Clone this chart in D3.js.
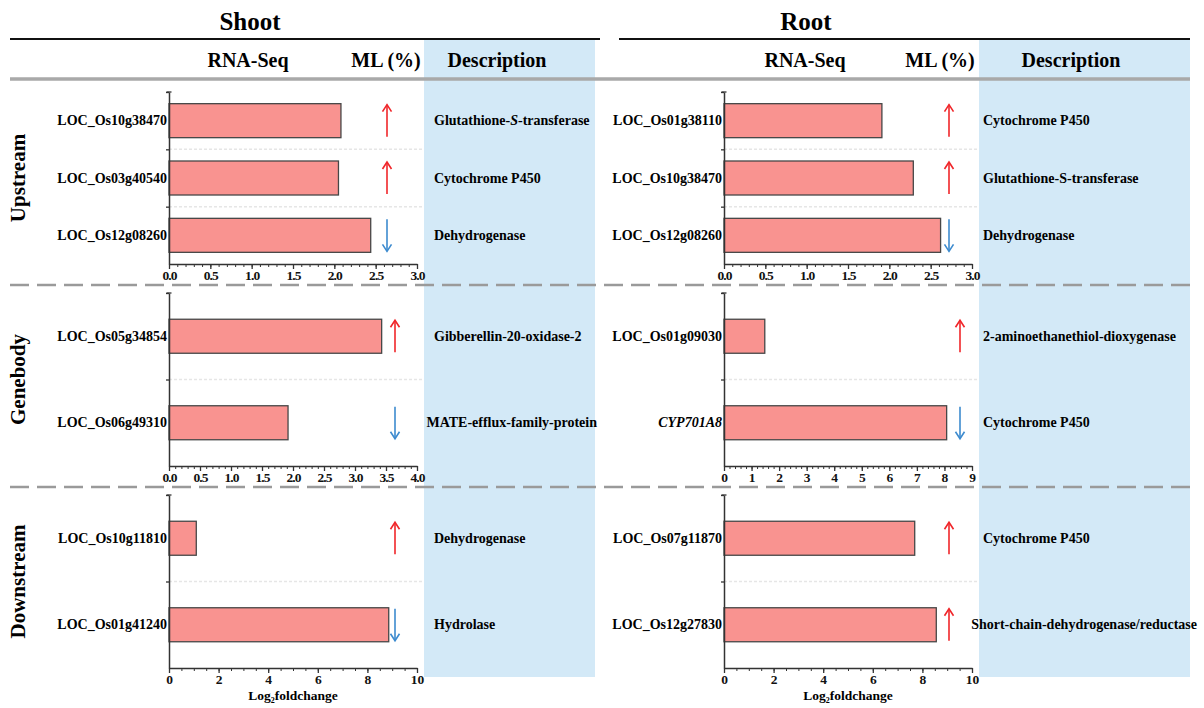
<!DOCTYPE html>
<html>
<head>
<meta charset="utf-8">
<script src="https://cdn.jsdelivr.net/npm/d3@7"></script>
<style>
  html, body { margin: 0; padding: 0; background: #fff; }
  svg { display: block; }
  svg text { font-family: "Liberation Serif", "Times New Roman", serif; }
</style>
</head>
<body>
<svg id="chart" width="1204" height="708"></svg>
<script>
// ---- data ----
const sections = ["Upstream", "Genebody", "Downstream"];

const shootGenes = [
  ["LOC_Os10g38470", "LOC_Os03g40540", "LOC_Os12g08260"],
  ["LOC_Os05g34854", "LOC_Os06g49310"],
  ["LOC_Os10g11810", "LOC_Os01g41240"]
];
const shootValues = [[2.08, 2.05, 2.44], [3.43, 1.92], [1.10, 8.86]];
const shootML = [["up", "up", "down"], ["up", "down"], ["up", "down"]];
const shootDesc = [
  ["Glutathione-*S*-transferase", "Cytochrome P450", "Dehydrogenase"],
  ["Gibberellin-20-oxidase-2", "MATE-efflux-family-protein"],
  ["Dehydrogenase", "Hydrolase"]
];
const shootMax = [3, 4, 10];
const shootMajor = [0.5, 0.5, 2];
const shootMinor = [0.1, 0.1, 0.5];

const rootGenes = [
  ["LOC_Os01g38110", "LOC_Os10g38470", "LOC_Os12g08260"],
  ["LOC_Os01g09030", "CYP701A8"],
  ["LOC_Os07g11870", "LOC_Os12g27830"]
];
const rootValues = [[1.91, 2.29, 2.62], [1.48, 8.08], [7.69, 8.56]];
const rootML = [["up", "up", "down"], ["up", "down"], ["up", "up"]];
const rootDesc = [
  ["Cytochrome P450", "Glutathione-S-transferase", "Dehydrogenase"],
  ["2-aminoethanethiol-dioxygenase", "Cytochrome P450"],
  ["Cytochrome P450", "Short-chain-dehydrogenase/reductase"]
];
const rootMax = [3, 9, 10];
const rootMajor = [0.5, 1, 2];
const rootMinor = [0.1, 0.2, 0.5];

const italicGenes = ["CYP701A8"];

// ---- layout ----
const FONT = "'Liberation Serif', 'Times New Roman', serif";
const svg = d3.select("#chart");
const sectionTop = [92, 293, 495];
const sectionBottom = [264, 466, 668];
const barH = 34;
const colors = { bar: "#f99390", barStroke: "#474747", up: "#f0262a", down: "#3d8bcf",
                 desc: "#d3e9f7", gray: "#a9a9a9" };

const panels = [
  { title: "Shoot", genes: shootGenes, values: shootValues, ml: shootML, desc: shootDesc,
    max: shootMax, major: shootMajor, minor: shootMinor,
    x0: 169, x1: 417, mlX: [387, 395, 395], descX0: 424, descX1: 595, descPad: 10, descOver: 2,
    lineX0: 10, lineX1: 600, titleX: 250, seqX: 248, mlHeadX: 386, descHeadX: 497 },
  { title: "Root", genes: rootGenes, values: rootValues, ml: rootML, desc: rootDesc,
    max: rootMax, major: rootMajor, minor: rootMinor,
    x0: 724, x1: 972, mlX: [949, 960, 949], descX0: 979, descX1: 1190, descPad: 4, descOver: 7,
    lineX0: 619, lineX1: 1190, titleX: 806, seqX: 805, mlHeadX: 940, descHeadX: 1071 }
];

// description backgrounds
panels.forEach(p => {
  svg.append("rect").attr("x", p.descX0).attr("y", 39)
    .attr("width", p.descX1 - p.descX0).attr("height", 677 - 39)
    .attr("fill", colors.desc);
});

// header
panels.forEach(p => {
  svg.append("text").attr("x", p.titleX).attr("y", 30).attr("text-anchor", "middle")
    .attr("font-size", 25).attr("font-weight", "bold").text(p.title);
  svg.append("line").attr("x1", p.lineX0).attr("x2", p.lineX1).attr("y1", 39).attr("y2", 39)
    .attr("stroke", "#111").attr("stroke-width", 2);
  svg.append("text").attr("x", p.seqX).attr("y", 67).attr("text-anchor", "middle")
    .attr("font-size", 20).attr("font-weight", "bold").text("RNA-Seq");
  svg.append("text").attr("x", p.mlHeadX).attr("y", 67).attr("text-anchor", "middle")
    .attr("font-size", 20).attr("font-weight", "bold").text("ML (%)");
  svg.append("text").attr("x", p.descHeadX).attr("y", 67).attr("text-anchor", "middle")
    .attr("font-size", 20).attr("font-weight", "bold").text("Description");
});

svg.append("line").attr("x1", 10).attr("x2", 1190).attr("y1", 79).attr("y2", 79)
  .attr("stroke", colors.gray).attr("stroke-width", 3.5);

// dashed section dividers
[285, 487].forEach(yy => {
  svg.append("line").attr("x1", 10).attr("x2", 1190).attr("y1", yy).attr("y2", yy)
    .attr("stroke", "#9a9a9a").attr("stroke-width", 2.5).attr("stroke-dasharray", "19,8");
});

// section labels
sections.forEach((s, i) => {
  const cy = (sectionTop[i] + sectionBottom[i]) / 2;
  svg.append("text").attr("transform", `translate(25,${cy}) rotate(-90)`)
    .attr("text-anchor", "middle").attr("font-size", 21).attr("font-weight", "bold").text(s);
});

function arrow(g, x, cy, dir, color) {
  const half = 16;
  const tip = dir === "up" ? cy - half : cy + half;
  const tail = dir === "up" ? cy + half : cy - half;
  const hs = dir === "up" ? 7 : -7;
  g.append("line").attr("x1", x).attr("x2", x).attr("y1", tail).attr("y2", tip)
    .attr("stroke", color).attr("stroke-width", 1.6);
  g.append("path").attr("d", `M${x - 4.5},${tip + hs} L${x},${tip} L${x + 4.5},${tip + hs}`)
    .attr("fill", "none").attr("stroke", color).attr("stroke-width", 1.6);
}

function richText(sel, str) {
  str.split(/(\*[^*]+\*)/).filter(t => t.length).forEach(t => {
    const it = t.startsWith("*");
    sel.append("tspan").attr("font-style", it ? "italic" : "normal").text(it ? t.slice(1, -1) : t);
  });
}

panels.forEach(p => {
  sections.forEach((s, i) => {
    const g = svg.append("g").attr("font-family", FONT);
    const x = d3.scaleLinear().domain([0, p.max[i]]).range([p.x0, p.x1]);
    const y = d3.scaleBand().domain(p.genes[i]).range([sectionTop[i], sectionBottom[i]]);
    const rows = p.genes[i].map((gene, k) => ({
      gene, value: p.values[i][k], ml: p.ml[i][k], desc: p.desc[i][k]
    }));

    // faint row separators
    const bounds = d3.range(1, rows.length).map(k => sectionTop[i] + k * y.step());
    bounds.forEach(b => {
      g.append("line").attr("x1", p.x0).attr("x2", p.x1 + 6).attr("y1", b).attr("y2", b)
        .attr("stroke", "#e6e6e6").attr("stroke-width", 1.5).attr("stroke-dasharray", "3,2");
    });

    // bars
    g.selectAll("rect.bar").data(rows).join("rect").attr("class", "bar")
      .attr("x", x(0))
      .attr("y", d => y(d.gene) + y.bandwidth() / 2 - barH / 2)
      .attr("width", d => x(d.value) - x(0))
      .attr("height", barH)
      .attr("fill", colors.bar).attr("stroke", colors.barStroke).attr("stroke-width", 1.3);

    // y axis
    const yb = d3.scaleLinear().domain([sectionTop[i], sectionBottom[i]]).range([sectionTop[i], sectionBottom[i]]);
    const ya = g.append("g").attr("transform", `translate(${p.x0},0)`)
      .call(d3.axisLeft(yb).tickValues([sectionTop[i], ...bounds]).tickSize(3).tickSizeOuter(0).tickFormat(""));
    ya.select(".domain").attr("stroke", "#333").attr("stroke-width", 1.5);
    ya.selectAll(".tick line").attr("stroke", "#333").attr("stroke-width", 1.3);
    g.append("line").attr("x1", p.x0 - 2.5).attr("x2", p.x0 + 2.5)
      .attr("y1", sectionTop[i]).attr("y2", sectionTop[i]).attr("stroke", "#333").attr("stroke-width", 1.3);

    // gene labels
    g.selectAll("text.gene").data(rows).join("text").attr("class", "gene")
      .attr("x", p.x0 - 2).attr("y", d => y(d.gene) + y.bandwidth() / 2 + 4.5)
      .attr("text-anchor", "end").attr("font-size", 14).attr("font-weight", "bold")
      .attr("font-style", d => italicGenes.includes(d.gene) ? "italic" : "normal")
      .text(d => d.gene);

    // x axis: minor + major ticks
    const yAxis = sectionBottom[i];
    const minorTicks = d3.range(0, p.max[i] + 1e-9, p.minor[i]);
    g.append("g").attr("transform", `translate(0,${yAxis})`)
      .call(d3.axisBottom(x).tickValues(minorTicks).tickSize(3).tickSizeOuter(0).tickFormat(""))
      .call(a => a.select(".domain").remove())
      .selectAll(".tick line").attr("stroke", "#333");
    const majorTicks = d3.range(0, p.max[i] + 1e-9, p.major[i]);
    const fmt = p.major[i] < 1 ? d3.format(".1f") : d3.format("d");
    const xa = g.append("g").attr("transform", `translate(0,${yAxis})`)
      .call(d3.axisBottom(x).tickValues(majorTicks).tickSize(5).tickSizeOuter(0).tickPadding(1).tickFormat(fmt));
    xa.select(".domain").attr("stroke", "#333").attr("stroke-width", 1.5);
    xa.selectAll(".tick line").attr("stroke", "#333").attr("stroke-width", 1.3);
    xa.attr("font-family", FONT);
    xa.selectAll(".tick text").attr("font-size", 13.5).attr("font-weight", "bold").attr("fill", "#111")
      .attr("letter-spacing", p.major[i] < 1 ? -0.9 : 0);

    // methylation direction arrows
    rows.forEach(d => {
      arrow(g, p.mlX[i], y(d.gene) + y.bandwidth() / 2, d.ml, d.ml === "up" ? colors.up : colors.down);
    });

    // descriptions
    rows.forEach(d => {
      const t = g.append("text").attr("y", y(d.gene) + y.bandwidth() / 2 + 4.5)
        .attr("font-size", 14).attr("font-weight", "bold");
      richText(t, d.desc);
      const w = t.node().getComputedTextLength();
      let tx = p.descX0 + p.descPad;
      const maxEnd = p.descX1 + p.descOver;
      if (tx + w > maxEnd) tx = Math.max(p.descX0 - 12, maxEnd - w);
      t.attr("x", tx);
    });

    if (i === sections.length - 1) {
      const lt = g.append("text").attr("x", (p.x0 + p.x1) / 2).attr("y", 700)
        .attr("text-anchor", "middle").attr("font-size", 13.5).attr("font-weight", "bold");
      lt.append("tspan").text("Log");
      lt.append("tspan").attr("font-size", 8).attr("dy", 3).text("2");
      lt.append("tspan").attr("dy", -3).text("foldchange");
    }
  });
});
</script>
</body>
</html>
